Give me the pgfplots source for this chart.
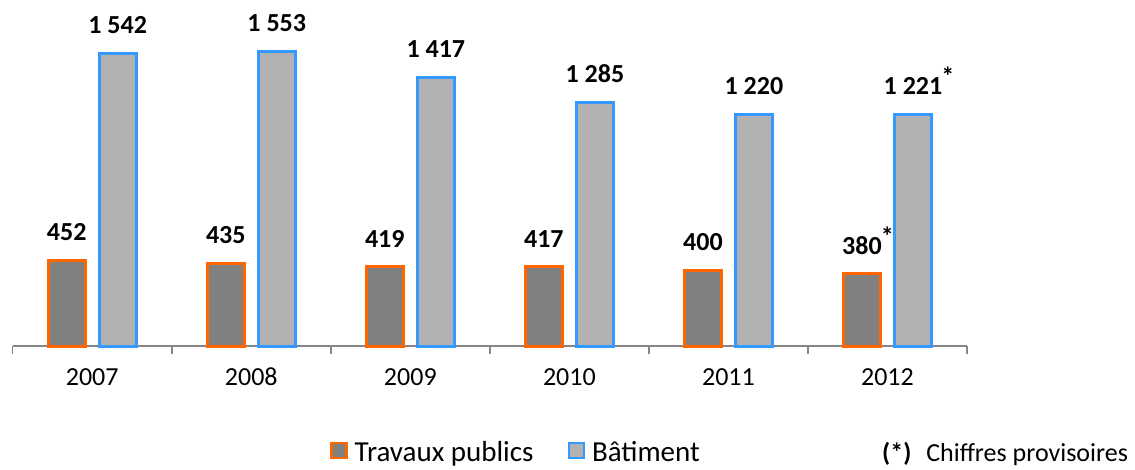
\documentclass[border=0pt]{standalone}
\usepackage{fontspec}
\setmainfont{Carlito}
\usepackage{pgfplots}
\pgfplotsset{compat=1.18}
\definecolor{dgray}{RGB}{128,128,128}
\definecolor{lgray}{RGB}{178,178,178}
\definecolor{orangeE}{RGB}{255,102,0}
\definecolor{blueE}{RGB}{51,153,255}
\definecolor{axgray}{RGB}{134,134,134}
\newcommand{\provis}{\rlap{\kern-1pt\raisebox{9pt}{*}}}
\begin{document}
\begin{tikzpicture}
\path[use as bounding box] (0,0) rectangle (1135pt,469pt);
\begin{axis}[
  at={(12.7pt,123pt)}, anchor=south west,
  scale only axis, width=954.3pt, height=341.5pt,
  ybar, bar width=37pt,
  xmin=-0.5, xmax=5.5, ymin=0, ymax=1800,
  enlargelimits=false, clip=false,
  axis x line*=bottom, axis y line=none,
  axis line style={draw=axgray, line width=1.5pt},
  xtick={0,...,5},
  xticklabels={2007,2008,2009,2010,2011,2012},
  major tick length=0pt,
  minor xtick={-0.5,0.5,...,5.5},
  minor tick length=8pt,
  tick align=outside,
  minor tick style={draw=axgray, line width=1.5pt},
  xticklabel style={inner sep=0pt, anchor=north, yshift=-22pt, font=\fontsize{26}{30}\selectfont},
  ytick=\empty,
  point meta=explicit symbolic,
  nodes near coords,
  every node near coord/.append style={anchor=south, inner sep=0pt, yshift=18pt, font=\fontsize{26}{30}\selectfont\bfseries, text=black},
  legend columns=2,
  legend style={draw=none, fill=none, inner sep=0pt, at={(0.3325,-0.312)}, anchor=west,
    font=\fontsize{29}{33}\selectfont,
    nodes={inner sep=0pt},
    /tikz/every odd column/.style={column sep=7pt},
    /tikz/every even column/.style={column sep=34pt}},
]
\addplot[fill=dgray, draw=orangeE, line width=3pt, bar shift=-25.5pt,
  legend image code/.code={\draw[fill=dgray, draw=orangeE, line width=2.5pt] (0pt,-5.5pt) rectangle (15pt,9.5pt);}]
  coordinates {(0,452) [452] (1,435) [435] (2,419) [419] (3,417) [417] (4,400) [400] (5,380) [380\provis]};
\addlegendentry{Travaux publics}
\addplot[fill=lgray, draw=blueE, line width=3pt, bar shift=25.5pt,
  legend image code/.code={\draw[fill=lgray, draw=blueE, line width=2.5pt] (0pt,-5.5pt) rectangle (15pt,9.5pt);}]
  coordinates {(0,1542) [1~542] (1,1553) [1~553] (2,1417) [1~417] (3,1285) [1~285] (4,1220) [1~220] (5,1221) [1~221\provis]};
\addlegendentry{Bâtiment}
\end{axis}
\node[anchor=base west, inner sep=0pt, font=\fontsize{26}{30}\selectfont] at (882pt,8pt) {\textbf{(*)}\hspace{15pt}Chiffres provisoires};
\end{tikzpicture}
\end{document}
